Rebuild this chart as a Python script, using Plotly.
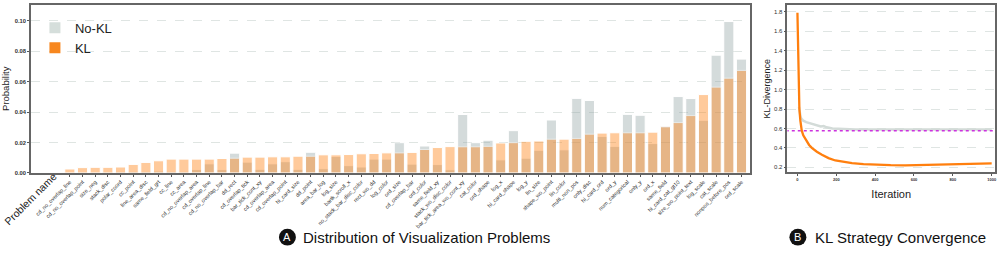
import plotly.graph_objects as go

# ---------------- data ----------------
problems = [
    "cd_no_overlap_line", "cd_no_overlap_point", "size_neg", "stack_disc", "polar_coord",
    "cc_point", "line_area_disc", "same_field_grt", "cc_line", "cc_area",
    "cd_no_overlap_area", "cd_overlap_line", "cd_no_overlap_bar", "dd_rect", "cd_overlap_tick",
    "bar_tick_cont_xy", "cd_overlap_area", "cd_overlap_point", "hi_card_size", "dd_point",
    "area_bar_log", "log_size", "bartk_scroll_x", "no_stack_bar_disc_color", "rect_wo_dd",
    "log_color", "ord_size", "cd_overlap_bar", "ord_color", "same_field_xy",
    "stack_wo_disc_color", "bar_tick_area_wo_cont_xy", "cat_color", "ord_shape", "log_x",
    "hi_card_shape", "log_y", "lin_size", "shape_wo_point", "lin_color",
    "multi_non_pos", "only_disc", "hi_card_ord", "ord_y", "num_categorical",
    "only_y", "ord_x", "same_field", "hi_card_cat_gt10", "size_wo_point_text",
    "log_scale", "cat_scale", "nonpos_before_pos", "ord_scale",
]
prob_kl = [
    0.0026, 0.0035, 0.0037, 0.0037, 0.0039, 0.0056, 0.0069, 0.0080, 0.0091, 0.0091,
    0.0091, 0.0091, 0.0095, 0.0097, 0.0104, 0.0104, 0.0106, 0.0106, 0.0110, 0.0110,
    0.0119, 0.0119, 0.0121, 0.0126, 0.0128, 0.0132, 0.0132, 0.0135, 0.0154, 0.0167,
    0.0173, 0.0172, 0.0172, 0.0175, 0.0197, 0.0199, 0.0208, 0.0210, 0.0222, 0.0222,
    0.0227, 0.0255, 0.0262, 0.0264, 0.0264, 0.0264, 0.0268, 0.0303, 0.0331, 0.0377,
    0.0515, 0.0564, 0.0623, 0.0674,
]
prob_nokl = [
    0.0004, 0.0006, 0.0005, 0.0006, 0.0008, 0.0010, 0.0009, 0.0012, 0.0010, 0.0008,
    0.0022, 0.0060, 0.0022, 0.0130, 0.0071, 0.0024, 0.0060, 0.0074, 0.0024, 0.0136,
    0.0028, 0.0108, 0.0048, 0.0039, 0.0091, 0.0091, 0.0199, 0.0058, 0.0177, 0.0055,
    0.0021, 0.0384, 0.0199, 0.0215, 0.0086, 0.0278, 0.0097, 0.0149, 0.0348, 0.0152,
    0.0490, 0.0476, 0.0240, 0.0175, 0.0385, 0.0379, 0.0193, 0.0307, 0.0502, 0.0489,
    0.0346, 0.0774, 0.0995, 0.0748,
]

iter_kl = [0, 5, 10, 15, 22, 30, 43, 60, 74, 100, 126, 160, 195, 240, 281, 340,
           401, 480, 556, 640, 712, 800, 867, 950, 1000]
div_kl = [1.79, 1.20, 0.80, 0.68, 0.58, 0.53, 0.48, 0.43, 0.40, 0.36, 0.33, 0.295,
          0.27, 0.255, 0.243, 0.233, 0.227, 0.222, 0.220, 0.223, 0.227, 0.231, 0.233,
          0.238, 0.241]
iter_nokl = [8, 12, 16, 20, 30, 45, 60, 80, 100, 120, 135, 150, 180, 220, 300, 400,
             500, 600, 700, 800, 900, 1000]
div_nokl = [0.82, 0.76, 0.72, 0.70, 0.68, 0.665, 0.655, 0.645, 0.63, 0.62, 0.625,
            0.612, 0.60, 0.595, 0.59, 0.59, 0.59, 0.595, 0.592, 0.59, 0.59, 0.588]
target_div = 0.576

y_ticks_a = [0.00, 0.02, 0.04, 0.06, 0.08, 0.10]
y_ticks_b = [0.2, 0.4, 0.6, 0.8, 1.0, 1.2, 1.4, 1.6, 1.8]
x_ticks_b = [0, 200, 400, 600, 800, 1000]

ORANGE = "#ff7f0e"
GRAY = "#95a5a6"
FONT = "Liberation Sans, Arial, sans-serif"
W, H = 997, 256

fig = go.Figure()

# Bars (overlay)
fig.add_trace(go.Bar(x=problems, y=prob_nokl, name="No-KL", marker_color=GRAY,
                     opacity=0.4, width=0.8, marker_line=dict(color="white", width=1),
                     showlegend=False, xaxis="x", yaxis="y"))
fig.add_trace(go.Bar(x=problems, y=prob_kl, name="KL", marker_color=ORANGE,
                     opacity=0.41, width=0.8, marker_line=dict(color="white", width=1),
                     showlegend=False, xaxis="x", yaxis="y"))
# legend proxies
fig.add_trace(go.Scatter(x=[None], y=[None], mode="markers", name="No-KL",
                         marker=dict(symbol="square", size=11, color="#d5dedb"),
                         xaxis="x", yaxis="y"))
fig.add_trace(go.Scatter(x=[None], y=[None], mode="markers", name="KL",
                         marker=dict(symbol="square", size=11, color="#f7871f"),
                         xaxis="x", yaxis="y"))

# Convergence lines
fig.add_trace(go.Scatter(x=iter_nokl, y=div_nokl, mode="lines", name="No-KL divergence",
                         line=dict(color="#d3dbd8", width=2.5), showlegend=False,
                         xaxis="x2", yaxis="y2"))
fig.add_trace(go.Scatter(x=[-60, 1100], y=[target_div, target_div], mode="lines",
                         name="target", line=dict(color="#cc33dd", width=1.3, dash="dot"),
                         showlegend=False, xaxis="x2", yaxis="y2"))
fig.add_trace(go.Scatter(x=iter_kl, y=div_kl, mode="lines", name="KL divergence",
                         line=dict(color=ORANGE, width=2.3), showlegend=False,
                         xaxis="x2", yaxis="y2"))

def px_x(p):
    return p / W

def px_y(p):
    return (H - p) / H

fig.update_layout(
    width=W, height=H, margin=dict(l=0, r=0, t=0, b=0),
    paper_bgcolor="white", plot_bgcolor="white",
    barmode="overlay", bargap=0.2,
    font=dict(family=FONT, color="#222"),
    showlegend=True,
    legend=dict(x=px_x(35), y=px_y(13), xanchor="left", yanchor="top",
                font=dict(size=13, color="#222"), bgcolor="rgba(0,0,0,0)",
                traceorder="normal"),
    xaxis=dict(domain=[px_x(31), px_x(752)], range=[-3.07, 53.71],
               tickangle=-45, tickfont=dict(size=5.5, color="#333"),
               ticks="outside", ticklen=2, tickcolor="#555",
               showline=True, linecolor="#666", linewidth=1.5, mirror=True,
               showgrid=False, anchor="y"),
    yaxis=dict(domain=[px_y(175), px_y(5)], range=[0, 0.1104],
               tickvals=y_ticks_a, ticktext=[f"{v:.2f}" for v in y_ticks_a],
               tickfont=dict(size=5.8, color="#333", weight="bold"),
               ticks="outside", ticklen=2, tickcolor="#555",
               showline=True, linecolor="#666", linewidth=1.5, mirror=True,
               showgrid=True, gridcolor="#dfe5e3", griddash="dash", gridwidth=1,
               zeroline=False, anchor="x"),
    xaxis2=dict(domain=[px_x(789), 1.0], range=[-51.6, 1017],
                tickvals=x_ticks_b, ticktext=[str(v) for v in x_ticks_b],
                tickfont=dict(size=4, color="#333", weight="bold"),
                ticks="outside", ticklen=2, tickcolor="#555",
                showline=True, linecolor="#666", linewidth=1.5, mirror=True,
                showgrid=False, zeroline=False,
                title=dict(text="Iteration", font=dict(size=11, color="#222"), standoff=10),
                anchor="y2"),
    yaxis2=dict(domain=[px_y(174), px_y(5)], range=[0.152, 1.871],
                tickvals=y_ticks_b, ticktext=[f"{v:.1f}" for v in y_ticks_b],
                tickfont=dict(size=6, color="#333"),
                ticks="outside", ticklen=2, tickcolor="#555",
                showline=True, linecolor="#666", linewidth=1.5, mirror=True,
                showgrid=True, gridcolor="#dfe5e3", griddash="dash", gridwidth=1,
                zeroline=False, anchor="x2"),
)

# y-axis titles
fig.add_annotation(text="Probability", xref="paper", yref="paper",
                   x=px_x(6), y=px_y(89), xanchor="center", yanchor="middle",
                   textangle=-90, showarrow=False, font=dict(size=9.5, color="#222"))
fig.add_annotation(text="KL-Divergence", xref="paper", yref="paper",
                   x=px_x(768), y=px_y(89), xanchor="center", yanchor="middle",
                   textangle=-90, showarrow=False, font=dict(size=9, color="#222"))

# "Problem name" label (x-axis header)
fig.add_annotation(text="Problem name", xref="paper", yref="paper",
                   x=px_x(30), y=px_y(201), xanchor="center", yanchor="middle",
                   textangle=-45, showarrow=False, font=dict(size=10.5, color="#222"))

# Panel captions with circled letters
for cx, letter, cap, tx in [(288, "A", "Distribution of Visualization Problems", 302),
                            (799.5, "B", "KL Strategy Convergence", 815)]:
    r = 8.5
    fig.add_shape(type="circle", xref="paper", yref="paper",
                  x0=px_x(cx - r), x1=px_x(cx + r), y0=px_y(240 + r), y1=px_y(240 - r),
                  fillcolor="#111", line=dict(color="#111", width=0))
    fig.add_annotation(text=letter, xref="paper", yref="paper", x=px_x(cx), y=px_y(240),
                       xanchor="center", yanchor="middle", showarrow=False,
                       font=dict(size=11, color="white", family=FONT))
    fig.add_annotation(text=cap, xref="paper", yref="paper", x=px_x(tx), y=px_y(240),
                       xanchor="left", yanchor="middle", showarrow=False,
                       font=dict(size=15, color="#111", family=FONT))

fig.write_html("out.html", post_script="document.body.style.margin='0px';",
               config={"displayModeBar": False})
